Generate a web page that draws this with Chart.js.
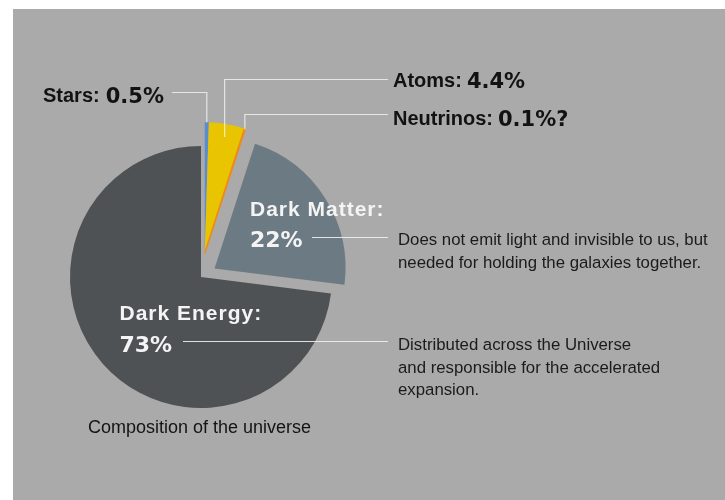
<!DOCTYPE html>
<html>
<head>
<meta charset="utf-8">
<script src="https://cdn.jsdelivr.net/npm/chart.js@4/dist/chart.umd.min.js"></script>
<style>
  html, body { margin: 0; padding: 0; background: #ffffff; }
  #wrap { position: relative; width: 725px; height: 500px; }
  canvas { display: block; }
</style>
</head>
<body>
<div id="wrap"><canvas id="c" width="725" height="500"></canvas></div>
<script>
// ---- data ----
const categories = ['Stars', 'Atoms', 'Neutrinos', 'Dark Matter', 'Dark Energy'];
const values = [0.5, 4.4, 0.1, 22, 73];
const valueLabels = ['0.5%', '4.4%', '0.1%?', '22%', '73%'];
const sliceColors = ['#5b8ccc', '#e8c500', '#ee8a1c', '#6c7a83', '#4f5254'];
const explodeGroups = [0, 0, 0, 1, 2];          // slices that move out together
const explodeDistance = [24, 16, 0];            // px per group
const descDarkMatter = ['Does not emit light and invisible to us, but', 'needed for holding the galaxies together.'];
const descDarkEnergy = ['Distributed across the Universe', 'and responsible for the accelerated', 'expansion.'];
const caption = 'Composition of the universe';

const BG = '#a9aaa9';

const bgPlugin = {
  id: 'bg',
  beforeDraw(chart) {
    const ctx = chart.ctx;
    ctx.save();
    ctx.fillStyle = BG;
    ctx.fillRect(13, 9, chart.width - 13, chart.height - 9);
    ctx.restore();
  }
};

const explodePlugin = {
  id: 'explode',
  beforeDatasetsDraw(chart) {
    const meta = chart.getDatasetMeta(0);
    const ca = chart.chartArea;
    const cx = (ca.left + ca.right) / 2, cy = (ca.top + ca.bottom) / 2;
    const groups = {};
    meta.data.forEach((el, i) => {
      const g = explodeGroups[i];
      if (!groups[g]) groups[g] = { s: el.startAngle, e: el.endAngle };
      groups[g].s = Math.min(groups[g].s, el.startAngle);
      groups[g].e = Math.max(groups[g].e, el.endAngle);
    });
    meta.data.forEach((el, i) => {
      const g = explodeGroups[i];
      const mid = (groups[g].s + groups[g].e) / 2;
      const d = explodeDistance[g];
      el.x = cx + d * Math.cos(mid);
      el.y = cy + d * Math.sin(mid);
    });
  }
};

function arcPoint(el, frac) {
  const mid = (el.startAngle + el.endAngle) / 2;
  const r = el.outerRadius * frac;
  return { x: el.x + r * Math.cos(mid), y: el.y + r * Math.sin(mid) };
}

const labelPlugin = {
  id: 'labels',
  afterDatasetsDraw(chart) {
    const ctx = chart.ctx;
    const arcs = chart.getDatasetMeta(0).data;
    ctx.save();
    ctx.textBaseline = 'alphabetic';
    ctx.textAlign = 'left';

    // leader lines (top group)
    ctx.strokeStyle = 'rgba(255,255,255,0.7)';
    ctx.lineWidth = 1.2;
    const pS = arcPoint(arcs[0], 1.0);
    const pA = arcPoint(arcs[1], 0.9);
    const pN = arcPoint(arcs[2], 1.0);
    ctx.beginPath();
    ctx.moveTo(172, 92.5); ctx.lineTo(pS.x, 92.5); ctx.lineTo(pS.x, pS.y);
    ctx.moveTo(388, 79.5); ctx.lineTo(pA.x, 79.5); ctx.lineTo(pA.x, pA.y);
    ctx.moveTo(388, 114.5); ctx.lineTo(pN.x, 114.5); ctx.lineTo(pN.x, pN.y + 1);
    ctx.stroke();

    // side leader lines
    ctx.strokeStyle = 'rgba(240,240,240,0.9)';
    ctx.beginPath();
    ctx.moveTo(312, 237.5); ctx.lineTo(388, 237.5);
    ctx.moveTo(183, 341.5); ctx.lineTo(388, 341.5);
    ctx.stroke();

    // black labels
    const blackLabel = (i, x, y, gap) => {
      ctx.fillStyle = '#121212';
      ctx.font = 'bold 20px "Liberation Sans", Arial, sans-serif';
      const t = categories[i] + ':';
      ctx.fillText(t, x, y);
      const w = ctx.measureText(t).width;
      ctx.font = 'bold 21px "DejaVu Sans", sans-serif';
      ctx.fillText(valueLabels[i], x + w + gap, y + 0.5);
    };
    blackLabel(0, 43, 102, 6);
    blackLabel(1, 393, 87, 5);
    blackLabel(2, 393, 125, 5);

    // white labels
    const whiteLabel = (i, x, y1, y2) => {
      ctx.fillStyle = '#f4f4f4';
      ctx.font = 'bold 21px "Liberation Sans", Arial, sans-serif';
      ctx.letterSpacing = '1px';
      ctx.fillText(categories[i] + ':', x, y1);
      ctx.letterSpacing = '0px';
      ctx.font = 'bold 22px "DejaVu Sans", sans-serif';
      ctx.fillText(valueLabels[i], x, y2);
    };
    whiteLabel(3, 250, 216, 247);
    whiteLabel(4, 119.5, 320, 352);

    // descriptions
    ctx.fillStyle = '#1b1b1b';
    ctx.font = '16.8px "Liberation Sans", Arial, sans-serif';
    descDarkMatter.forEach((t, k) => ctx.fillText(t, 398, 245 + k * 22.7));
    descDarkEnergy.forEach((t, k) => ctx.fillText(t, 398, 350 + k * 22.7));

    // caption
    ctx.fillStyle = '#141414';
    ctx.font = '18px "Liberation Sans", Arial, sans-serif';
    ctx.fillText(caption, 88, 433);
    ctx.restore();
  }
};

new Chart(document.getElementById('c'), {
  type: 'pie',
  data: {
    labels: categories,
    datasets: [{
      data: values,
      backgroundColor: sliceColors,
      borderColor: sliceColors,
      borderWidth: [0, 0, 1.5, 0, 0],
      hoverOffset: 0
    }]
  },
  options: {
    responsive: false,
    animation: false,
    radius: 131,
    rotation: 0,
    layout: { padding: { left: 70, right: 393, top: 146, bottom: 92 } },
    plugins: { legend: { display: false }, tooltip: { enabled: false } },
    events: []
  },
  plugins: [bgPlugin, explodePlugin, labelPlugin]
});
</script>
</body>
</html>
